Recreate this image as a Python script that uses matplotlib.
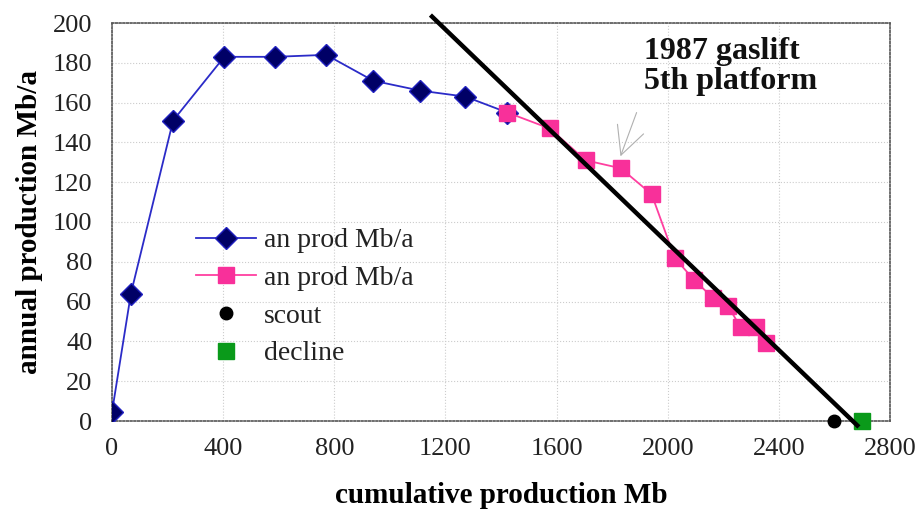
import matplotlib
matplotlib.use("Agg")
import matplotlib.pyplot as plt

# ---- data ----
hist_x = [0, 68, 220, 404, 587, 771, 940, 1110, 1272, 1423]
hist_y = [4.5, 64, 151, 183, 183, 184, 171, 166, 163, 155]
late_x = [1423, 1575, 1705, 1831, 1942, 2025, 2094, 2162, 2216, 2263, 2317, 2353]
late_y = [155, 147, 131, 127, 114, 82, 71, 62, 58, 47, 47, 39]
scout_x = [2598]
scout_y = [0]
decline_pt_x = [2699]
decline_pt_y = [0]
trend_x = [1146, 2688]
trend_y = [204, -3]
x_ticks = [0, 400, 800, 1200, 1600, 2000, 2400, 2800]
y_ticks = [0, 20, 40, 60, 80, 100, 120, 140, 160, 180, 200]

plt.rcParams['font.family'] = ['Liberation Serif', 'DejaVu Serif']

fig = plt.figure(figsize=(9.19, 5.21), dpi=100)
ax = fig.add_axes([112/919, 100/521, 778/919, 398/521])

ax.set_xlim(0, 2800)
ax.set_ylim(0, 200)
ax.set_xticks(x_ticks)
ax.set_yticks(y_ticks)
ax.grid(True, color='#cccccc', linestyle=':', linewidth=0.8)
ax.set_axisbelow(True)
for s in ax.spines.values():
    s.set_linestyle((0, (1, 1.2)))
    s.set_color('#555555')
    s.set_linewidth(1.2)
ax.tick_params(axis='both', length=0, labelsize=19, colors='#222222')
ax.tick_params(axis='x', pad=12)
ax.tick_params(axis='y', pad=14)

ax.plot(hist_x, hist_y, color='#2b2bc8', linewidth=1.3, marker='D', markersize=11,
        markerfacecolor='#000066', markeredgecolor='#2020c0', markeredgewidth=1.0,
        label='an prod Mb/a', zorder=3)
ax.plot(late_x, late_y, color='#ff3fa0', linewidth=1.3, marker='s', markersize=12,
        markerfacecolor='#f8309a', markeredgecolor='#f8309a',
        label='an prod Mb/a', zorder=3)
ax.plot(scout_x, scout_y, linestyle='none', marker='o', markersize=9, color='black',
        label='scout', clip_on=False, zorder=4)
ax.plot(decline_pt_x, decline_pt_y, linestyle='none', marker='s', markersize=12,
        color='#0a9a1a', label='decline', clip_on=False, zorder=4)
ax.plot(trend_x, trend_y, color='black', linewidth=3.2, clip_on=False, zorder=5,
        solid_capstyle='butt')

ax.annotate('', xy=(1830, 133), xytext=(1888, 155),
            arrowprops=dict(arrowstyle='->', color='#b0b0b0', lw=0.8,
                            mutation_scale=50, shrinkA=0, shrinkB=0))
ax.text(1913, 193, '1987 gaslift\n5th platform', fontsize=23, fontweight='bold',
        ha='left', va='top', linespacing=1.05, color='#111111')

ax.set_xlabel('cumulative production Mb', fontsize=21, fontweight='bold', labelpad=16)
ax.set_ylabel('annual production Mb/a', fontsize=21, fontweight='bold', labelpad=7)

leg = ax.legend(loc='upper left', bbox_to_anchor=(0.108, 0.485), frameon=False,
                fontsize=20, handlelength=2.15, handletextpad=0.3,
                labelspacing=0.44, borderaxespad=0, borderpad=0)
for t in leg.get_texts():
    t.set_color('#222222')

fig.savefig('out.png', dpi=100)
